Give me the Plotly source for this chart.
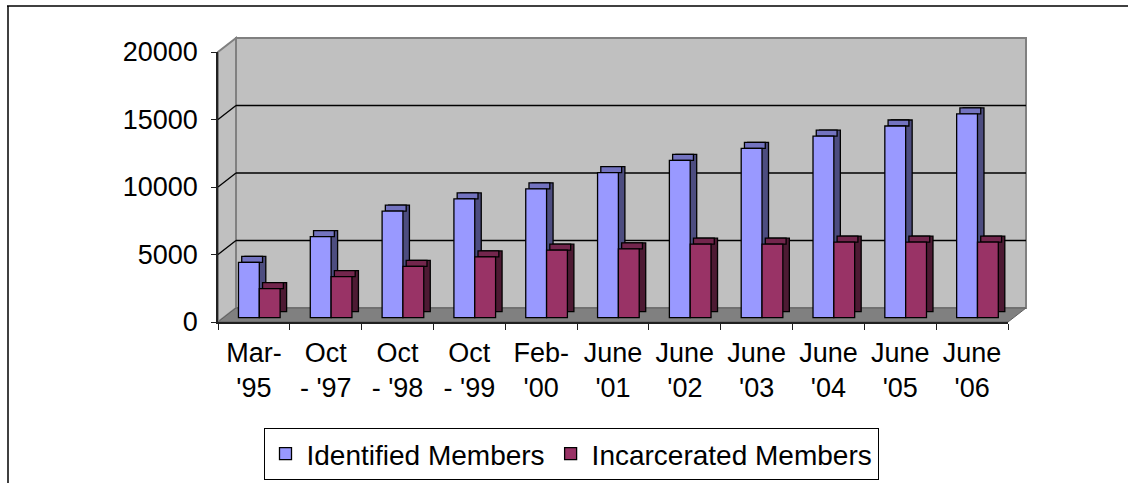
import plotly.graph_objects as go

# ---------------- data ----------------
categories = ["Mar-<br>'95", "Oct<br>- '97", "Oct<br>- '98", "Oct<br>- '99", "Feb-<br>'00",
              "June<br>'01", "June<br>'02", "June<br>'03", "June<br>'04", "June<br>'05", "June<br>'06"]
identified = [4100, 6000, 7900, 8800, 9550, 10750, 11650, 12550, 13450, 14200, 15100]
incarcerated = [2150, 3050, 3800, 4500, 5000, 5100, 5450, 5450, 5600, 5600, 5600]
y_ticks = [0, 5000, 10000, 15000, 20000]
y_tick_labels = ["0", "5000", "10000", "15000", "20000"]

# ---------------- geometry / style ----------------
W_IMG, H_IMG = 1128, 483
PL, PR, PT, PB = 218, 1008, 52, 322          # front plane of the plot (pixels)
YMAX = 20000
DEPTH_X, DEPTH_Y = 18, 14                     # wall depth in pixels

def px(x):
    return (x - PL) / (PR - PL)

def py(y):
    return (PB - y) / (PB - PT)

U_PER_PX = YMAX / (PB - PT)
BACK_DY = DEPTH_Y * U_PER_PX                  # depth offset in data units
BASE = 4.3 * U_PER_PX                          # bars sit slightly behind front
BAR_DY = 6 * U_PER_PX
CAT_PX = (PR - PL) / len(categories)
BAR_DX = 6.5 / CAT_PX
W = 0.29
OFF_B, OFF_R = -0.215, 0.075

FONT = "Liberation Sans, Arial, sans-serif"

series = [
    ("Identified Members", identified, OFF_B, "#9999FF", "#7373C0", "#4D4D80"),
    ("Incarcerated Members", incarcerated, OFF_R, "#993366", "#73264D", "#4D1A33"),
]

fig = go.Figure()
for name, vals, off, front, top, side in series:
    line = dict(color="black", width=1.3)
    fig.add_trace(go.Bar(x=categories, y=vals, base=BASE + BAR_DY, offset=off + BAR_DX, width=W,
                         marker=dict(color=side, line=line), showlegend=False, hoverinfo="skip"))
    fig.add_trace(go.Bar(x=categories, y=[BAR_DY] * len(vals), base=[v + BASE for v in vals],
                         offset=off + BAR_DX / 2, width=W,
                         marker=dict(color=top, line=line), showlegend=False, hoverinfo="skip"))
    fig.add_trace(go.Bar(x=categories, y=vals, base=BASE, offset=off, width=W, name=name,
                         marker=dict(color=front, line=line)))

shapes = []
GRAY = "#808080"
WALL = "#C0C0C0"
# back wall
shapes.append(dict(type="rect", xref="paper", yref="paper",
                   x0=px(PL + DEPTH_X), x1=px(PR + DEPTH_X), y0=py(PB - DEPTH_Y), y1=py(PT - DEPTH_Y),
                   fillcolor=WALL, line=dict(color=GRAY, width=2), layer="below"))
# left wall
shapes.append(dict(type="path", xref="paper", yref="paper",
                   path=f"M{px(PL)},{py(PB)} L{px(PL)},{py(PT)} L{px(PL+DEPTH_X)},{py(PT-DEPTH_Y)} "
                        f"L{px(PL+DEPTH_X)},{py(PB-DEPTH_Y)} Z",
                   fillcolor=WALL, line=dict(color=GRAY, width=2), layer="below"))
# floor
shapes.append(dict(type="path", xref="paper", yref="paper",
                   path=f"M{px(PL)},{py(PB)} L{px(PL+DEPTH_X)},{py(PB-DEPTH_Y)} L{px(PR+DEPTH_X)},{py(PB-DEPTH_Y)} "
                        f"L{px(PR)},{py(PB)} Z",
                   fillcolor=GRAY, line=dict(color="#606060", width=1), layer="below"))
# gridlines on back wall + diagonals on left wall
for v in y_ticks[1:-1]:
    shapes.append(dict(type="line", xref="paper", yref="y", x0=px(PL + DEPTH_X), x1=px(PR + DEPTH_X),
                       y0=v + BACK_DY, y1=v + BACK_DY, line=dict(color="black", width=1.3), layer="below"))
    shapes.append(dict(type="line", xref="paper", yref="y", x0=px(PL), x1=px(PL + DEPTH_X),
                       y0=v, y1=v + BACK_DY, line=dict(color="black", width=1.3), layer="below"))
# outer chart border (top and left)
shapes.append(dict(type="line", xref="paper", yref="paper", x0=px(7), x1=px(W_IMG + 5), y0=py(6), y1=py(6),
                   line=dict(color="black", width=1.5)))
shapes.append(dict(type="line", xref="paper", yref="paper", x0=px(8), x1=px(8), y0=py(6), y1=py(H_IMG + 5),
                   line=dict(color="black", width=1.5)))

fig.update_layout(
    width=W_IMG, height=H_IMG,
    margin=dict(l=PL, r=W_IMG - PR, t=PT, b=H_IMG - PB, pad=0, autoexpand=False),
    paper_bgcolor="white", plot_bgcolor="rgba(0,0,0,0)",
    barmode="overlay",
    font=dict(family=FONT, size=27, color="black"),
    shapes=shapes,
    showlegend=True,
    legend=dict(orientation="h", x=px(571), xanchor="center", y=py(428), yanchor="top",
                bordercolor="black", borderwidth=1, bgcolor="white", itemwidth=32,
                font=dict(family=FONT, size=28, color="black"), traceorder="normal"),
)
fig.update_xaxes(type="category", showgrid=False, showline=True, linecolor="#202020", linewidth=1.5,
                 ticks="outside", ticklen=6, tickcolor="#202020", tickson="boundaries",
                 ticklabelstandoff=6, zeroline=False, automargin=False)
fig.update_yaxes(range=[0, YMAX], tickvals=y_ticks, ticktext=y_tick_labels, showgrid=False,
                 showline=True, linecolor="#202020", linewidth=1.5, ticks="outside", ticklen=5,
                 tickcolor="#202020", zeroline=False, ticklabelstandoff=8, automargin=False)

fig.write_html("out.html", config={"displayModeBar": False},
               post_script="document.body.style.margin='0';")
